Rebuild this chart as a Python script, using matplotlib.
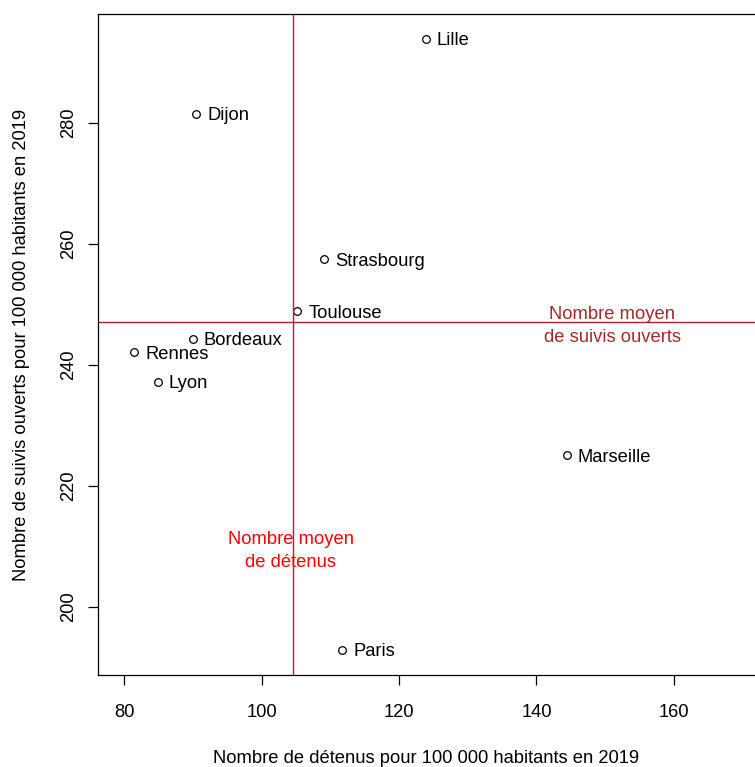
import numpy as np
import matplotlib
matplotlib.use("Agg")
import matplotlib.pyplot as plt

plt.rcParams['font.family'] = ['Liberation Sans', 'DejaVu Sans']

villes = ['Lille', 'Dijon', 'Strasbourg', 'Toulouse', 'Bordeaux', 'Rennes', 'Lyon', 'Marseille', 'Paris']
detenus = [123.9, 90.5, 109.1, 105.2, 90.0, 81.5, 84.9, 144.4, 111.7]
suivis = [293.9, 281.5, 257.5, 248.9, 244.3, 242.1, 237.2, 225.1, 192.9]

moy_x = np.mean(detenus)
moy_y = np.mean(suivis)

FS = 13.2
W, H = 755, 767
fig = plt.figure(figsize=(W / 100, H / 100), dpi=100)
ax = fig.add_axes([98 / W, (H - 675) / H, 1 - 98 / W, (675 - 14) / H])

ax.plot(detenus, suivis, 'o', mfc='none', mec='black', ms=5.5, mew=0.9)
for v, x, y in zip(villes, detenus, suivis):
    ax.annotate(v, (x, y), xytext=(8, 0), textcoords='offset points',
                va='center_baseline', ha='left', fontsize=FS)

ax.axvline(moy_x, color='#FF0000', lw=1)
ax.axhline(moy_y, color='#B22222', lw=1)
ax.text(moy_x - 0.3, 209.2, 'Nombre moyen\nde détenus', color='#FF0000',
        ha='center', va='center', fontsize=FS, linespacing=1.45)
ax.text(151.0, 246.4, 'Nombre moyen\nde suivis ouverts', color='#A52A2A',
        ha='center', va='center', fontsize=FS, linespacing=1.45)

ax.set_xlim(76.2, 171.8)
ax.set_ylim(188.76, 298.0)
ax.set_xticks([80, 100, 120, 140, 160])
ax.set_yticks([200, 220, 240, 260, 280])
ax.tick_params(direction='out', length=7, width=0.9, labelsize=FS)
ax.tick_params(axis='x', pad=14)
ax.tick_params(axis='y', pad=8)
for lab in ax.get_yticklabels():
    lab.set_rotation(90)
    lab.set_va('center')
ax.spines['right'].set_visible(False)
for s in ['left', 'bottom', 'top']:
    ax.spines[s].set_linewidth(0.9)

ax.set_xlabel('Nombre de détenus pour 100 000 habitants en 2019', fontsize=FS, labelpad=21)
ax.set_ylabel('Nombre de suivis ouverts pour 100 000 habitants en 2019', fontsize=FS, labelpad=22)

fig.savefig('out.png', dpi=100)
